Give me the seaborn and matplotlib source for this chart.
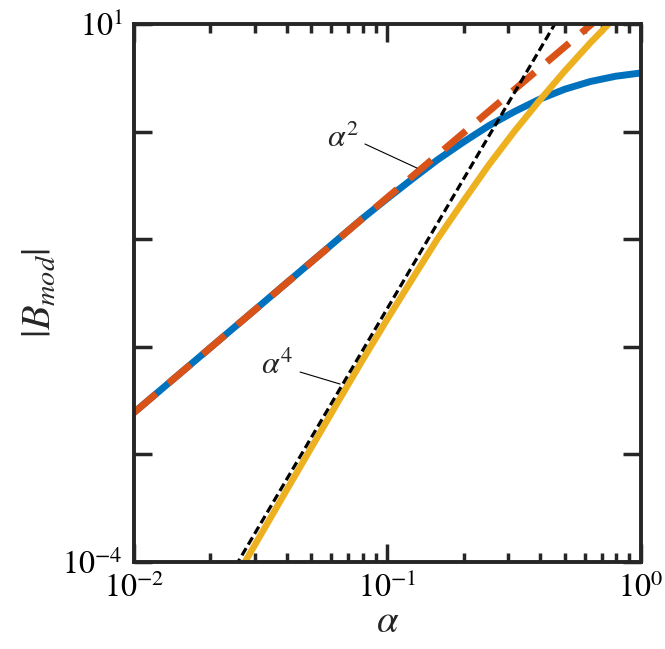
import numpy as np
import pandas as pd
import seaborn as sns
import matplotlib
matplotlib.use("Agg")
import matplotlib.pyplot as plt
from matplotlib.ticker import LogLocator, NullFormatter, FixedLocator, FixedFormatter

# values (log-log axes)
alpha_blue = [0.01, 0.0316, 0.0794, 0.1, 0.126, 0.158, 0.2, 0.251, 0.316, 0.398, 0.501, 0.631, 0.794, 1.0]
b_blue = [2.45e-3, 2.45e-2, 0.155, 0.240, 0.367, 0.550, 0.804, 1.135, 1.53, 2.0, 2.48, 2.92, 3.27, 3.51]

alpha_yellow = [0.0251, 0.0398, 0.0631, 0.0794, 0.1, 0.126, 0.158, 0.2, 0.251, 0.316, 0.398, 0.501, 0.631, 0.794]
b_yellow = [7.0e-5, 4.57e-4, 2.95e-3, 7.41e-3, 1.82e-2, 4.37e-2, 0.102, 0.229, 0.490, 1.0, 1.95, 3.67, 6.68, 11.7]

# alpha^2 and alpha^4 guide lines
alpha_sq = [0.01, 0.7]
b_sq = [2.45e-3, 12.0]
alpha_4 = [0.02, 0.5]
b_4 = [3.66e-5, 14.3]

x_ticks = [1e-2, 1e-1, 1e0]
y_ticks = [1e-4, 1e-3, 1e-2, 1e-1, 1e0, 1e1]
y_ticklabels = [r"$10^{-4}$", "", "", "", "", r"$10^{1}$"]
x_ticklabels = [r"$10^{-2}$", r"$10^{-1}$", r"$10^{0}$"]

sns.set_theme(style="white")
plt.rcParams["font.family"] = ["Liberation Serif", "DejaVu Serif"]
plt.rcParams["mathtext.fontset"] = "stix"

BLUE = "#0072BD"
RED = "#D95319"
YELLOW = "#EDB120"
AX = "#262626"

fig = plt.figure(figsize=(6.65, 6.49), dpi=100)
ax = fig.add_axes([0.2015, 0.134, 0.7624, 0.829])

sns.lineplot(x=alpha_blue, y=b_blue, ax=ax, color=BLUE, lw=5, sort=False, estimator=None)
sns.lineplot(x=alpha_sq, y=b_sq, ax=ax, color=RED, lw=5, linestyle=(0, (4.2, 2.3)), sort=False, estimator=None)
sns.lineplot(x=alpha_yellow, y=b_yellow, ax=ax, color=YELLOW, lw=4.7, sort=False, estimator=None)
sns.lineplot(x=alpha_4, y=b_4, ax=ax, color="black", lw=2.3, linestyle=(0, (2.6, 1.3)), sort=False, estimator=None)

ax.set_xscale("log")
ax.set_yscale("log")
ax.set_xlim(1e-2, 1e0)
ax.set_ylim(1e-4, 1e1)

ax.xaxis.set_major_locator(FixedLocator(x_ticks))
ax.xaxis.set_major_formatter(FixedFormatter(x_ticklabels))
ax.xaxis.set_minor_locator(LogLocator(base=10, subs=np.arange(2, 10)))
ax.xaxis.set_minor_formatter(NullFormatter())
ax.yaxis.set_major_locator(FixedLocator(y_ticks))
ax.yaxis.set_major_formatter(FixedFormatter(y_ticklabels))
ax.yaxis.set_minor_locator(FixedLocator([]))

for s in ax.spines.values():
    s.set_color(AX)
    s.set_linewidth(2.8)
    s.set_visible(True)

ax.tick_params(which="both", direction="in", left=True, bottom=True, top=True, right=True,
               color=AX, width=2.5, labelsize=23, labelcolor="black")
ax.tick_params(which="major", length=13, pad=8)
ax.tick_params(which="minor", length=6.5)

ax.set_xlabel(r"$\alpha$", fontsize=28, labelpad=0)
ax.set_ylabel(r"$|B_{mod}|$", fontsize=29, labelpad=2)

# labels with leader lines
ax.text(0.0667, 0.853, r"$\alpha^2$", fontsize=23, ha="center", va="center")
ax.annotate("", xy=(0.1306, 0.459), xytext=(0.0815, 0.767),
            arrowprops=dict(arrowstyle="-", lw=0.8, color="black", shrinkA=0, shrinkB=0))
ax.text(0.0366, 6.64e-3, r"$\alpha^4$", fontsize=23, ha="center", va="center")
ax.annotate("", xy=(0.065, 4.51e-3), xytext=(0.0452, 5.83e-3),
            arrowprops=dict(arrowstyle="-", lw=0.8, color="black", shrinkA=0, shrinkB=0))

fig.savefig("out.png", dpi=100)
